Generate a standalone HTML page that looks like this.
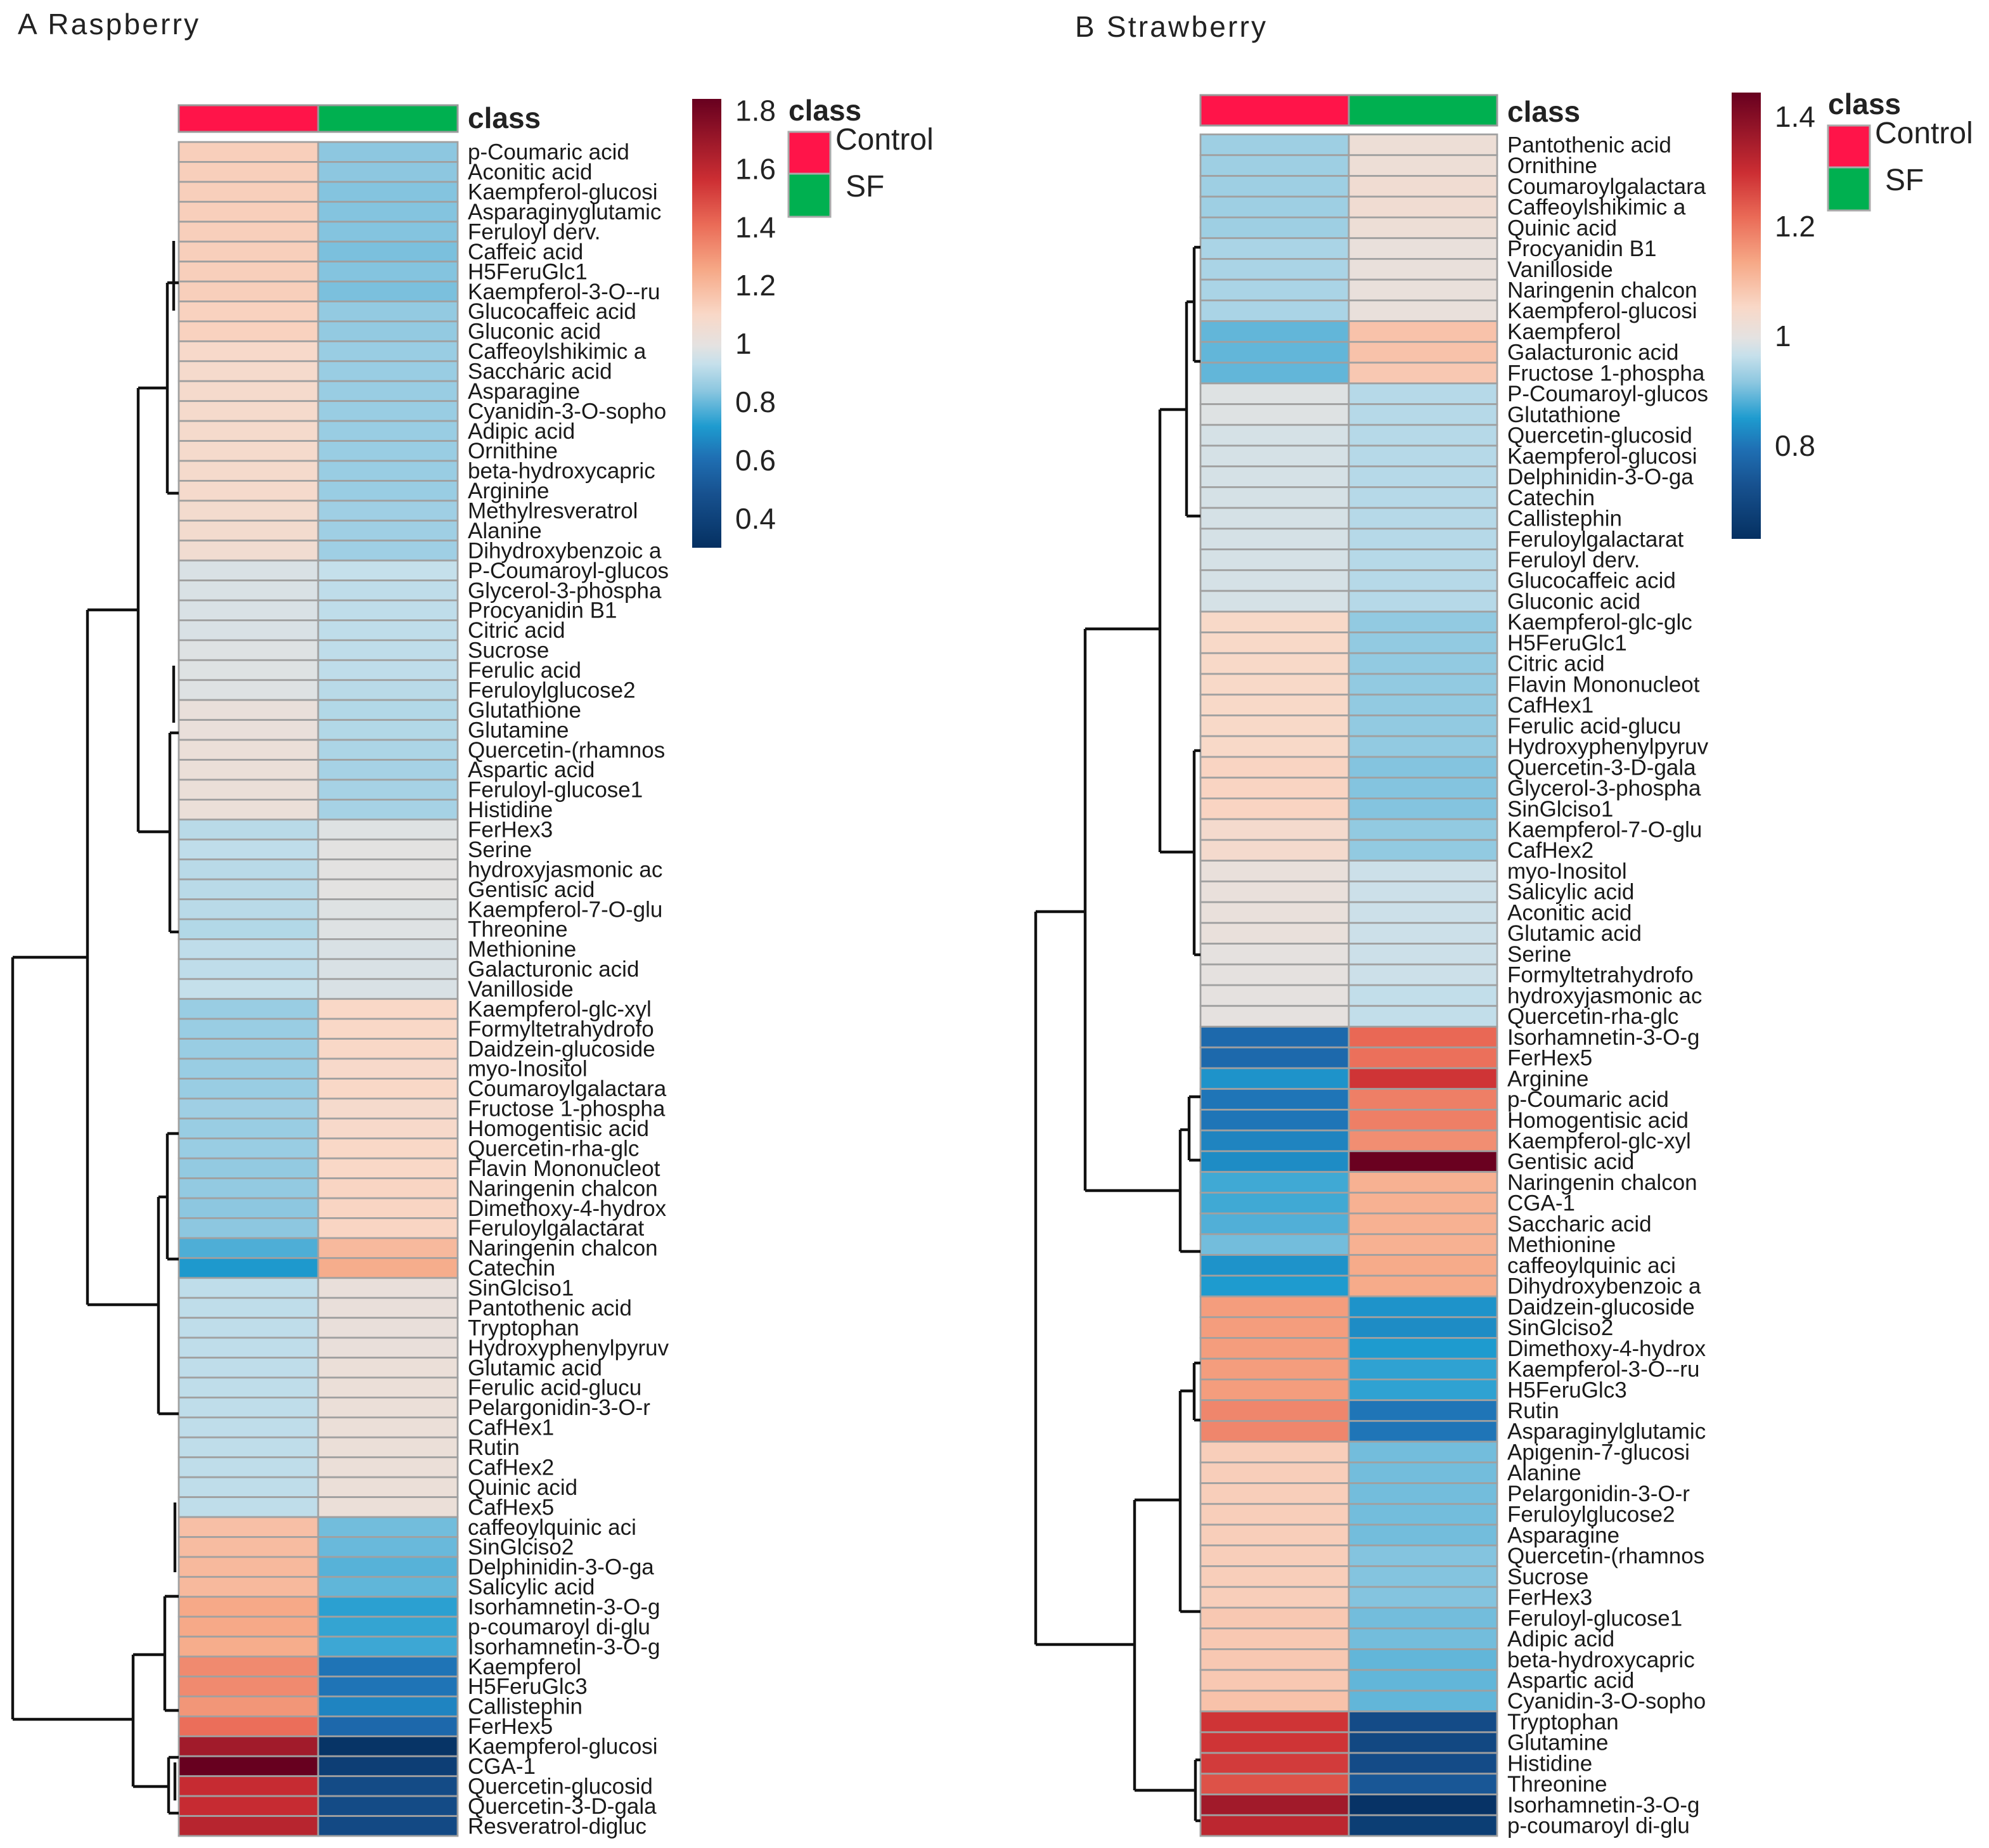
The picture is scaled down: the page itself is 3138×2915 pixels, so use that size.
<!DOCTYPE html>
<html><head><meta charset="utf-8"><style>
html,body{margin:0;padding:0;background:#fff;}
svg{display:block;font-family:"Liberation Sans",sans-serif;}
</style></head><body>
<svg id="fig" width="3138" height="2915" viewBox="0 0 1569 1457.5" xmlns="http://www.w3.org/2000/svg">
<defs>
<linearGradient id="gradA" x1="0" y1="1" x2="0" y2="0"></linearGradient>
<linearGradient id="gradB" x1="0" y1="1" x2="0" y2="0"></linearGradient>
</defs>
<rect width="1569" height="1457.5" fill="#fff"/>
<text x="14" y="27" font-size="23" letter-spacing="1.6" fill="#222">A  Raspberry</text>
<text x="848" y="29" font-size="23" letter-spacing="1.6" fill="#222">B Strawberry</text>
<g id="panelA"></g>
<g id="panelB"></g>
</svg>
<script>
// ---- Panel A data (Raspberry) ----
const labelsA = ["p-Coumaric acid","Aconitic acid","Kaempferol-glucosi","Asparaginyglutamic","Feruloyl derv.","Caffeic acid","H5FeruGlc1","Kaempferol-3-O--ru","Glucocaffeic acid","Gluconic acid","Caffeoylshikimic a","Saccharic acid","Asparagine","Cyanidin-3-O-sopho","Adipic acid","Ornithine","beta-hydroxycapric","Arginine","Methylresveratrol","Alanine","Dihydroxybenzoic a","P-Coumaroyl-glucos","Glycerol-3-phospha","Procyanidin B1","Citric acid","Sucrose","Ferulic acid","Feruloylglucose2","Glutathione","Glutamine","Quercetin-(rhamnos","Aspartic acid","Feruloyl-glucose1","Histidine","FerHex3","Serine","hydroxyjasmonic ac","Gentisic acid","Kaempferol-7-O-glu","Threonine","Methionine","Galacturonic acid","Vanilloside","Kaempferol-glc-xyl","Formyltetrahydrofo","Daidzein-glucoside","myo-Inositol","Coumaroylgalactara","Fructose 1-phospha","Homogentisic acid","Quercetin-rha-glc","Flavin Mononucleot","Naringenin chalcon","Dimethoxy-4-hydrox","Feruloylgalactarat","Naringenin chalcon","Catechin","SinGlciso1","Pantothenic acid","Tryptophan","Hydroxyphenylpyruv","Glutamic acid","Ferulic acid-glucu","Pelargonidin-3-O-r","CafHex1","Rutin","CafHex2","Quinic acid","CafHex5","caffeoylquinic aci","SinGlciso2","Delphinidin-3-O-ga","Salicylic acid","Isorhamnetin-3-O-g","p-coumaroyl di-glu","Isorhamnetin-3-O-g","Kaempferol","H5FeruGlc3","Callistephin","FerHex5","Kaempferol-glucosi","CGA-1","Quercetin-glucosid","Quercetin-3-D-gala","Resveratrol-digluc"];
const controlA = [1.13,1.13,1.13,1.13,1.13,1.13,1.13,1.13,1.12,1.12,1.09,1.08,1.08,1.08,1.08,1.08,1.08,1.08,1.07,1.07,1.06,0.97,0.97,0.97,0.97,0.98,0.98,0.98,1.02,1.02,1.03,1.03,1.03,1.03,0.91,0.92,0.91,0.91,0.91,0.90,0.92,0.92,0.93,0.86,0.86,0.86,0.86,0.86,0.87,0.86,0.86,0.85,0.85,0.84,0.84,0.77,0.71,0.92,0.92,0.92,0.92,0.92,0.92,0.92,0.92,0.92,0.92,0.92,0.92,1.18,1.19,1.2,1.2,1.25,1.25,1.24,1.33,1.33,1.3,1.4,1.68,1.84,1.58,1.58,1.62];
const sfA = [0.84,0.84,0.83,0.83,0.83,0.82,0.83,0.82,0.85,0.85,0.86,0.86,0.86,0.86,0.86,0.86,0.86,0.86,0.87,0.87,0.87,0.93,0.92,0.92,0.92,0.92,0.92,0.91,0.9,0.9,0.89,0.88,0.88,0.88,0.98,0.99,0.99,0.99,0.98,0.98,0.97,0.97,0.97,1.1,1.1,1.1,1.09,1.1,1.08,1.09,1.1,1.1,1.11,1.11,1.11,1.2,1.24,1.02,1.02,1.02,1.02,1.03,1.03,1.03,1.03,1.03,1.03,1.03,1.03,0.81,0.8,0.78,0.79,0.73,0.74,0.75,0.62,0.62,0.66,0.58,0.32,0.38,0.45,0.45,0.44];
const ticksA = [1.8,1.6,1.4,1.2,1,0.8,0.6,0.4];
// ---- Panel B data (Strawberry) ----
const labelsB = ["Pantothenic acid","Ornithine","Coumaroylgalactara","Caffeoylshikimic a","Quinic acid","Procyanidin B1","Vanilloside","Naringenin chalcon","Kaempferol-glucosi","Kaempferol","Galacturonic acid","Fructose 1-phospha","P-Coumaroyl-glucos","Glutathione","Quercetin-glucosid","Kaempferol-glucosi","Delphinidin-3-O-ga","Catechin","Callistephin","Feruloylgalactarat","Feruloyl derv.","Glucocaffeic acid","Gluconic acid","Kaempferol-glc-glc","H5FeruGlc1","Citric acid","Flavin Mononucleot","CafHex1","Ferulic acid-glucu","Hydroxyphenylpyruv","Quercetin-3-D-gala","Glycerol-3-phospha","SinGlciso1","Kaempferol-7-O-glu","CafHex2","myo-Inositol","Salicylic acid","Aconitic acid","Glutamic acid","Serine","Formyltetrahydrofo","hydroxyjasmonic ac","Quercetin-rha-glc","Isorhamnetin-3-O-g","FerHex5","Arginine","p-Coumaric acid","Homogentisic acid","Kaempferol-glc-xyl","Gentisic acid","Naringenin chalcon","CGA-1","Saccharic acid","Methionine","caffeoylquinic aci","Dihydroxybenzoic a","Daidzein-glucoside","SinGlciso2","Dimethoxy-4-hydrox","Kaempferol-3-O--ru","H5FeruGlc3","Rutin","Asparaginylglutamic","Apigenin-7-glucosi","Alanine","Pelargonidin-3-O-r","Feruloylglucose2","Asparagine","Quercetin-(rhamnos","Sucrose","FerHex3","Feruloyl-glucose1","Adipic acid","beta-hydroxycapric","Aspartic acid","Cyanidin-3-O-sopho","Tryptophan","Glutamine","Histidine","Threonine","Isorhamnetin-3-O-g","p-coumaroyl di-glu"];
const controlB = [0.93,0.93,0.93,0.93,0.93,0.94,0.94,0.94,0.94,0.89,0.89,0.89,0.99,0.99,0.98,0.98,0.98,0.98,0.98,0.98,0.98,0.98,0.98,1.05,1.05,1.05,1.05,1.05,1.05,1.05,1.06,1.06,1.06,1.04,1.04,1.01,1.01,1.01,1.01,1.0,1.0,1.0,1.0,0.78,0.78,0.84,0.8,0.8,0.82,0.83,0.87,0.87,0.88,0.9,0.84,0.85,1.15,1.15,1.15,1.15,1.15,1.18,1.18,1.07,1.07,1.07,1.07,1.07,1.07,1.07,1.07,1.08,1.08,1.08,1.08,1.09,1.29,1.29,1.28,1.25,1.36,1.32];
const sfB = [1.02,1.02,1.03,1.03,1.02,1.01,1.01,1.01,1.01,1.09,1.09,1.08,0.95,0.95,0.95,0.95,0.95,0.95,0.95,0.95,0.95,0.95,0.95,0.92,0.92,0.92,0.92,0.92,0.92,0.92,0.91,0.91,0.91,0.92,0.92,0.97,0.97,0.97,0.97,0.97,0.97,0.96,0.96,1.22,1.21,1.29,1.19,1.19,1.17,1.44,1.12,1.12,1.12,1.12,1.13,1.13,0.84,0.83,0.85,0.86,0.86,0.8,0.8,0.9,0.9,0.9,0.9,0.9,0.91,0.91,0.91,0.9,0.9,0.89,0.89,0.89,0.71,0.7,0.71,0.74,0.64,0.67];
const ticksB = [1.4,1.2,1,0.8];

const stops = [[0,"#053061"],[0.12,"#17518F"],[0.2,"#1F6FB3"],[0.27,"#1E9BCF"],[0.35,"#8CC7E0"],[0.41,"#C6E0EB"],[0.45,"#E4E2E1"],[0.52,"#F9D8C7"],[0.62,"#F6A886"],[0.72,"#EA6B57"],[0.82,"#CC2E33"],[1,"#67001F"]];
function hex(c){return [parseInt(c.substr(1,2),16),parseInt(c.substr(3,2),16),parseInt(c.substr(5,2),16)];}
function pal(t){t=Math.max(0,Math.min(1,t));for(let i=1;i<stops.length;i++){if(t<=stops[i][0]){const a=stops[i-1],b=stops[i];const f=(t-a[0])/(b[0]-a[0]);const ca=hex(a[1]),cb=hex(b[1]);return "rgb("+ca.map((v,k)=>Math.round(v+(cb[k]-v)*f)).join(",")+")";}}return stops[stops.length-1][1];}
const NS="http://www.w3.org/2000/svg";
function mk(tag,attrs,parent){const e=document.createElementNS(NS,tag);for(const k in attrs)e.setAttribute(k,attrs[k]);parent.appendChild(e);return e;}
["gradA","gradB"].forEach(id=>{const g=document.getElementById(id);stops.forEach(s=>mk("stop",{offset:s[0],"stop-color":s[1]},g));});

function drawPanel(cfg){
  const g=document.getElementById(cfg.id);
  const n=cfg.labels.length;
  const rh=(cfg.y1-cfg.y0)/n;
  const colorOf=v=>pal((v-cfg.vmin)/(cfg.vmax-cfg.vmin));
  const cb1=mk("rect",{x:cfg.x0,y:cfg.cy0,width:cfg.xm-cfg.x0,height:cfg.cy1-cfg.cy0,fill:"#FF1449",stroke:"#9a9a9a","stroke-width":1.5},g);
  
  
  const cb2=mk("rect",{x:cfg.xm,y:cfg.cy0,width:cfg.x1-cfg.xm,height:cfg.cy1-cfg.cy0,fill:"#00B050",stroke:"#9a9a9a","stroke-width":1.5},g);
  
  
  const ct=mk("text",{x:cfg.x1+8,y:cfg.cy1-3,"font-size":23,"font-weight":"bold",fill:"#222"},g);ct.textContent="class";
  
  
  for(let i=0;i<n;i++){
    const y=cfg.y0+i*rh;
    const r1=mk("rect",{x:cfg.x0,y:y,width:cfg.xm-cfg.x0,height:rh,fill:colorOf(cfg.control[i]),stroke:"#a0a0a0","stroke-width":1.4},g);
    
    
    const r2=mk("rect",{x:cfg.xm,y:y,width:cfg.x1-cfg.xm,height:rh,fill:colorOf(cfg.sf[i]),stroke:"#a0a0a0","stroke-width":1.4},g);
    
    
    const t=mk("text",{x:cfg.x1+8,y:y+rh/2+6,"font-size":17.5,fill:"#1a1a1a"},g);t.textContent=cfg.labels[i];
    
    
  }
  cfg.dend.forEach(s=>{const l=mk("path",{d:s,fill:"none",stroke:"#111","stroke-width":2.2},g);
    
    });
  const bar=mk("rect",{x:cfg.barX,y:cfg.barY0,width:23,height:cfg.barY1-cfg.barY0,fill:"url(#"+cfg.grad+")"},g);
  
  
  const vy=v=>cfg.barY1-(v-cfg.vmin)/(cfg.vmax-cfg.vmin)*(cfg.barY1-cfg.barY0);
  cfg.ticks.forEach(v=>{const t=mk("text",{x:cfg.barX+34,y:vy(v)+8,"font-size":23,fill:"#222"},g);t.textContent=String(v);
    
    });
  const L=cfg.leg;
  const lt=mk("text",{x:L.x,y:L.y,"font-size":23,"font-weight":"bold",fill:"#222"},g);lt.textContent="class";
  
  
  const k1=mk("rect",{x:L.x,y:L.y+9,width:33,height:33,fill:"#FF1449",stroke:"#aaa","stroke-width":1.5},g);
  
  
  const k2=mk("rect",{x:L.x,y:L.y+42,width:33,height:34,fill:"#00B050",stroke:"#aaa","stroke-width":1.5},g);
  
  
  const e1=mk("text",{x:L.x+37,y:L.y+23,"font-size":24,fill:"#222"},g);e1.textContent="Control";
  
  
  const e2=mk("text",{x:L.x+45,y:L.y+60,"font-size":24,fill:"#222"},g);e2.textContent="SF";
  
  
}

drawPanel({id:"panelA",labels:labelsA,control:controlA,sf:sfA,ticks:ticksA,vmin:0.3,vmax:1.84,
  x0:141,xm:251,x1:361,y0:112,y1:1448,cy0:83,cy1:104,barX:546,barY0:78,barY1:432,grad:"gradA",
  leg:{x:622,y:95},
  dend:["M10,755 V1356","M10,755 H69","M10,1356 H105","M69,481 V1029","M69,481 H109","M69,1029 H125",
        "M109,306 V656","M109,306 H132","M109,656 H134","M132,223 V389","M132,223 H141","M132,389 H141",
        "M134,578 V735","M134,578 H141","M134,735 H141","M125,944 V1115","M125,944 H132","M125,1115 H141",
        "M132,894 V993","M132,894 H141","M132,993 H141","M105,1305 V1409","M105,1305 H130","M105,1409 H133",
        "M130,1259 V1349","M130,1259 H141","M130,1349 H141","M133,1386 V1430","M133,1386 H141","M133,1430 H141",
        "M137,190 V245","M137,525 V570","M138,1185 V1240","M138,1390 V1420"]});

drawPanel({id:"panelB",labels:labelsB,control:controlB,sf:sfB,ticks:ticksB,vmin:0.63,vmax:1.444,
  x0:947,xm:1064,x1:1181,y0:106,y1:1448,cy0:75,cy1:99,barX:1366,barY0:73,barY1:425,grad:"gradB",
  leg:{x:1442,y:90},
  dend:["M817,719 V1297","M817,719 H856","M817,1297 H895","M856,496 V939","M856,496 H915","M856,939 H931",
        "M915,323 V672","M915,323 H936","M915,672 H942","M936,238 V407","M936,238 H942","M936,407 H947",
        "M942,195 V285","M942,195 H947","M942,285 H947","M942,592 V753","M942,592 H947","M942,753 H947",
        "M931,891 V987","M931,891 H938","M931,987 H947","M938,865 V915","M938,865 H947","M938,915 H947",
        "M895,1183 V1412","M895,1183 H931","M895,1412 H943","M931,1097 V1271","M931,1097 H942","M931,1271 H947",
        "M942,1075 V1120","M942,1075 H947","M942,1120 H947","M943,1388 V1436","M943,1388 H947","M943,1436 H947"]});
</script>
</body></html>
